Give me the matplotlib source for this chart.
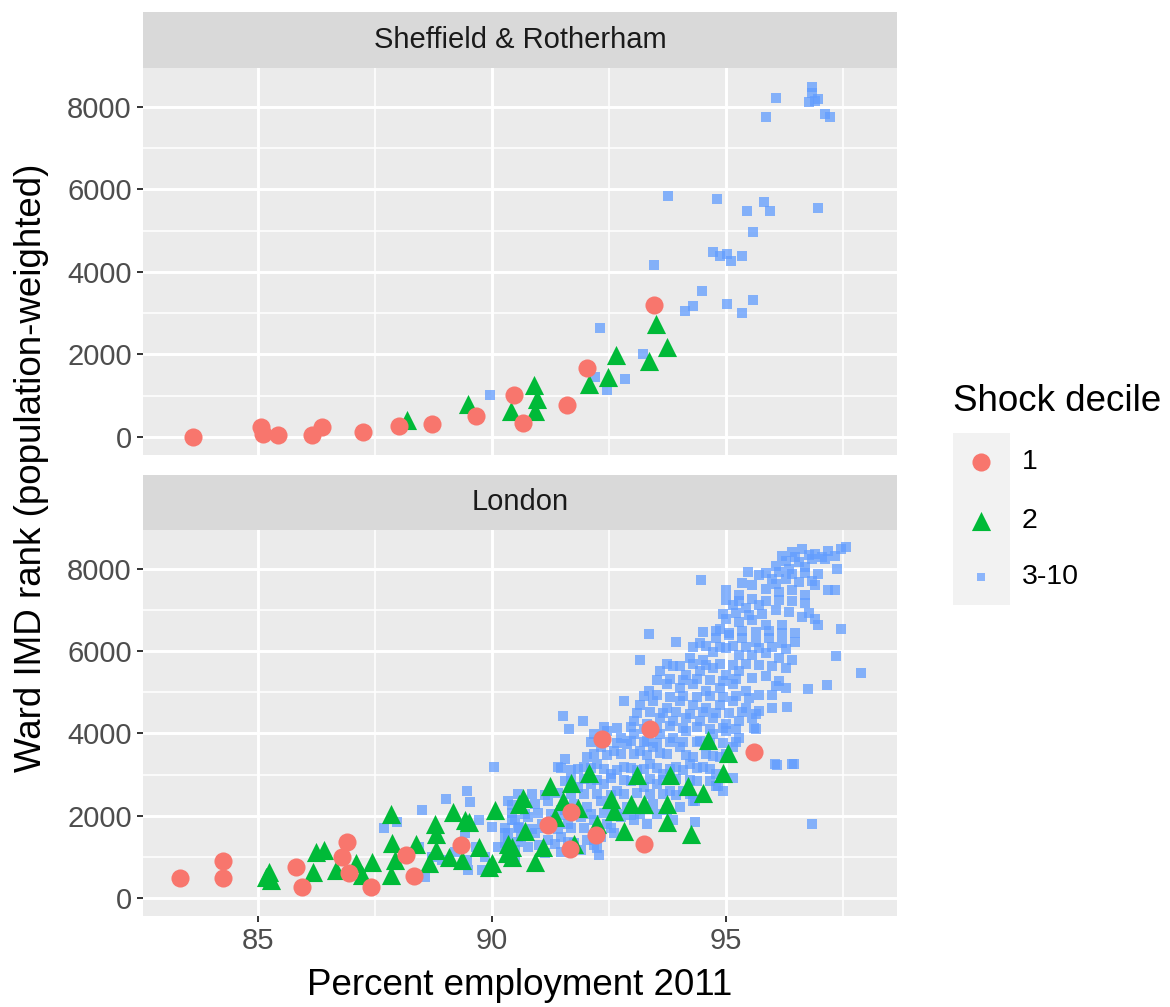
import matplotlib
matplotlib.use('Agg')
import matplotlib.pyplot as plt
import numpy as np

plt.rcParams['font.family'] = ['Liberation Sans', 'DejaVu Sans']

# Sheffield & Rotherham wards: (percent employment, IMD rank)
sheff_d1 = [(83.62, 10), (85.06, 240), (85.11, 80), (85.43, 60), (86.16, 40), (86.37, 240),
            (87.25, 120), (88.02, 270), (88.72, 320), (89.67, 520), (90.47, 1010), (90.67, 350),
            (91.61, 780), (92.02, 1670), (93.46, 3200)]
sheff_d2 = [(88.18, 400), (89.49, 800), (90.41, 620), (90.89, 1250), (90.96, 930), (90.91, 620),
            (92.08, 1290), (92.47, 1450), (92.66, 1990), (93.36, 1850), (93.51, 2740), (93.74, 2180)]
sheff_d3 = [(89.96, 1010), (92.2, 1450), (92.45, 1130), (92.85, 1410), (92.3, 2640), (93.23, 2020),
            (93.46, 4170), (94.12, 3060), (94.29, 3170), (94.48, 3530), (95.01, 3220), (95.34, 3010),
            (95.57, 3330), (93.76, 5840), (94.8, 5780), (95.44, 5480), (95.82, 5700), (95.93, 5480),
            (96.97, 5560), (95.57, 4980), (94.72, 4490), (94.88, 4390), (95.03, 4430), (95.1, 4270),
            (95.34, 4390), (95.86, 7760), (96.06, 8220), (96.76, 8120), (96.84, 8490), (96.89, 8140),
            (96.97, 8200), (97.11, 7820), (97.22, 7760), (96.84, 8340)]

# London wards
london_d1 = [(83.33, 480), (84.26, 900), (84.26, 480), (85.82, 760), (85.94, 280), (86.91, 1370),
             (86.81, 1000), (86.95, 600), (87.41, 260), (88.33, 540), (88.16, 1045), (89.35, 1290),
             (93.37, 4120), (92.36, 3860), (95.60, 3560), (93.25, 1310), (92.22, 1530), (91.20, 1770),
             (91.69, 2090), (91.66, 1180)]
london_d2 = [(85.18, 520), (85.28, 440), (85.25, 640), (86.24, 1130), (86.42, 1170), (86.17, 640),
             (86.67, 680), (87.09, 840), (87.45, 880), (87.84, 2050), (87.87, 1330), (87.84, 560),
             (87.94, 920), (88.79, 1810), (89.18, 2090), (89.08, 1000), (89.43, 1890), (90.07, 2130),
             (89.72, 1250), (89.93, 760), (90.57, 2290), (88.80, 1560), (88.66, 840), (89.51, 1840),
             (90.35, 1320), (88.38, 1320), (88.80, 1160), (89.37, 920), (90.00, 840), (87.22, 560),
             (90.67, 2440), (91.23, 2720), (91.69, 2800), (92.08, 3040), (91.51, 2360), (90.70, 1640),
             (91.09, 1240), (90.92, 880), (90.42, 1000), (91.76, 1320), (91.83, 2200), (92.61, 2120),
             (92.82, 1640), (93.24, 2280), (93.73, 1840), (93.80, 3000), (94.19, 2720), (94.26, 1560),
             (93.10, 3000), (92.25, 1800), (91.34, 1960), (94.61, 3840), (95.04, 3520), (94.93, 3040),
             (94.51, 2560), (93.73, 2290), (92.96, 2290), (92.54, 2410), (90.42, 1250), (90.32, 1090)]
london_d3 = [
    # upper right of the cloud
    (96.41, 8400), (96.62, 8480), (96.90, 8360), (97.18, 8440), (97.46, 8480), (97.57, 8520),
    (96.27, 8200), (96.55, 8160), (96.83, 8240), (97.11, 8240), (96.06, 8080), (96.34, 8000),
    (96.69, 8040), (95.46, 7920), (95.70, 7840), (95.99, 7760), (96.27, 7760), (96.55, 7680),
    (96.90, 7600), (97.18, 7480), (95.56, 7600), (95.85, 7520), (96.13, 7440), (96.41, 7480),
    (95.28, 7360), (96.69, 7360), (95.14, 7120), (95.42, 7040), (95.70, 7120), (96.06, 7000),
    (96.34, 6950), (96.62, 6830), (96.90, 6790), (96.97, 6630), (95.00, 6790), (95.28, 6710),
    (95.56, 6750), (95.85, 6630), (96.20, 6630), (94.86, 6550),
    (94.79, 6310), (95.07, 6390), (95.35, 6310), (95.63, 6230), (95.92, 6310), (96.20, 6190),
    (96.48, 6230), (94.44, 6190), (94.72, 5990), (95.00, 6070), (95.28, 5910), (95.56, 5910),
    (95.85, 5950), (96.13, 5830), (96.41, 5790), (94.23, 5830), (94.51, 5790),
    (96.20, 8320), (96.48, 8300), (96.76, 8330), (97.04, 8290), (97.32, 8310),
    (95.85, 7900), (96.13, 7930), (96.41, 7880), (96.69, 7910), (96.97, 7870),
    (95.35, 7650), (96.06, 7640), (96.83, 7700),
    (95.28, 7230), (95.56, 7260), (95.85, 7220), (96.13, 7250), (96.41, 7210), (96.69, 7180),
    (94.93, 6900), (95.21, 6920), (95.49, 6880), (95.77, 6900), (96.76, 6920),
    (94.51, 6470), (94.79, 6500), (95.07, 6450), (95.35, 6480), (95.63, 6460), (95.92, 6490),
    (96.20, 6430), (96.48, 6450),
    (94.30, 6100), (94.58, 6120), (94.86, 6090), (95.14, 6130), (95.42, 6100), (95.70, 6080),
    (95.99, 6110), (96.27, 6060),
    # middle of the cloud
    (93.59, 5510), (93.87, 5630), (94.15, 5430), (94.44, 5510), (94.72, 5590), (95.00, 5430),
    (95.28, 5510), (95.56, 5350), (95.85, 5390), (96.13, 5270), (96.27, 5110), (93.73, 5190),
    (94.01, 5110), (94.30, 5190), (94.58, 5030), (94.86, 5110), (95.14, 5190), (95.42, 5030),
    (95.70, 4940), (95.99, 4940), (93.17, 4700), (93.45, 4780), (93.73, 4620), (94.01, 4780),
    (94.30, 4700), (94.58, 4620), (94.86, 4700), (95.14, 4780), (95.42, 4620), (95.70, 4540),
    (95.99, 4620), (93.59, 4380), (93.87, 4300), (94.15, 4380), (94.44, 4300), (94.72, 4380),
    (95.00, 4220), (95.28, 4300), (95.56, 4380), (93.31, 4220), (93.03, 4300),
    (93.73, 5680), (94.01, 5650), (94.30, 5690), (94.58, 5660), (94.86, 5700), (95.14, 5670),
    (95.42, 5690), (95.70, 5660), (95.99, 5640), (96.27, 5600),
    (93.52, 5300), (93.80, 5330), (94.08, 5290), (94.37, 5320), (94.65, 5300), (94.93, 5280),
    (95.21, 5320), (96.06, 5150),
    (93.24, 4900), (93.52, 4930), (93.80, 4880), (94.08, 4910), (94.37, 4890), (94.65, 4920),
    (94.93, 4880), (95.21, 4900), (95.49, 4870),
    (93.10, 4500), (93.38, 4520), (93.66, 4490), (93.94, 4510), (94.23, 4480), (94.51, 4520),
    (94.79, 4500), (95.07, 4490), (95.35, 4510), (95.63, 4470),
    (92.18, 3980), (92.46, 4060), (92.75, 3900), (93.03, 3980), (93.31, 3820), (93.59, 3980),
    (93.87, 3900), (94.15, 4060), (94.44, 3820), (94.72, 3980), (95.00, 4060), (95.28, 3900),
    (92.32, 3660), (92.61, 3580), (92.89, 3740), (93.17, 3580), (93.45, 3660), (93.73, 3500),
    (94.01, 3660), (94.30, 3420), (94.58, 3500), (94.86, 3420), (95.14, 3660), (92.04, 3420),
    (92.39, 4160), (92.68, 4130), (92.96, 4150), (93.24, 4120), (93.52, 4140), (93.80, 4170),
    (94.08, 4130), (94.37, 4150), (94.65, 4120), (94.93, 4140), (95.21, 4100),
    (92.11, 3790), (92.39, 3800), (92.68, 3770), (92.96, 3810), (93.24, 3780), (93.52, 3760),
    (93.80, 3800), (94.08, 3780), (94.37, 3790), (94.65, 3770), (94.93, 3760), (95.21, 3800),
    (92.18, 3500), (92.46, 3480), (92.75, 3510), (93.03, 3490), (93.31, 3470), (93.59, 3520),
    (94.15, 3480), (94.72, 3460), (95.00, 3500),
    # lower band
    (91.41, 3180), (91.69, 3100), (91.97, 3180), (92.25, 3260), (92.54, 3020), (92.82, 3180),
    (93.10, 3100), (93.38, 3260), (93.66, 3020), (93.94, 3180), (94.23, 3260), (94.51, 3180),
    (94.79, 3020), (91.55, 2850), (91.83, 2690), (92.11, 2770), (92.39, 2770), (92.68, 2610),
    (92.96, 2850), (93.24, 2690), (93.52, 2770), (93.80, 2610), (94.08, 2610), (94.37, 2850),
    (94.65, 2850), (94.93, 2610),
    (91.48, 3150), (91.83, 3130), (92.11, 3160), (92.39, 3140), (92.68, 3120), (92.96, 3150),
    (93.24, 3130), (93.52, 3160), (93.80, 3140), (94.08, 3120), (94.37, 3150), (94.65, 3140),
    (91.69, 2880), (91.97, 2900), (92.25, 2870), (92.54, 2910), (92.82, 2880), (93.10, 2900),
    (93.38, 2890), (93.66, 2870), (93.94, 2900), (94.23, 2880),
    (90.35, 2370), (90.63, 2210), (90.92, 2290), (91.20, 2370), (91.48, 2130), (91.76, 2290),
    (92.04, 2210), (92.32, 2370), (92.61, 2130), (92.89, 2210), (93.17, 2050), (93.45, 2290),
    (93.73, 2130), (94.01, 2210), (94.30, 2370), (90.49, 1890), (90.77, 1970), (91.06, 1810),
    (91.34, 1890), (91.62, 1810), (91.90, 1970), (92.18, 1890), (92.46, 1810), (92.75, 1970),
    (93.03, 1890), (93.31, 1810), (93.87, 1890),
    (90.56, 2520), (90.85, 2540), (91.13, 2510), (91.41, 2550), (91.69, 2530), (91.97, 2520),
    (92.25, 2540), (92.54, 2510), (92.82, 2530), (93.10, 2550), (93.38, 2520), (93.66, 2540),
    (93.94, 2510), (94.23, 2530),
    (90.42, 2060), (90.70, 2040), (90.99, 2070), (91.27, 2050), (91.55, 2030), (91.83, 2060),
    (92.11, 2040), (92.39, 2070), (92.68, 2050), (92.96, 2030), (93.52, 2050),
    (90.35, 1570), (90.63, 1490), (90.92, 1570), (91.20, 1410), (91.48, 1490), (91.76, 1330),
    (92.04, 1410), (92.32, 1490), (92.61, 1570), (90.49, 1170), (90.77, 1250), (91.13, 1090),
    (91.48, 1130), (91.90, 1170), (92.25, 1210),
    (90.28, 1690), (90.56, 1710), (90.85, 1680), (91.13, 1700), (91.41, 1670), (91.69, 1690),
    (91.97, 1710), (92.25, 1680), (92.54, 1700),
    (90.28, 1330), (90.56, 1350), (91.00, 1300), (91.34, 1320), (91.62, 1350), (92.18, 1300),
    # left tail
    (88.23, 1130), (88.44, 1250), (88.72, 1000), (88.94, 920), (89.22, 1130), (89.47, 920),
    (89.65, 1250), (89.86, 1000), (90.14, 1250), (90.35, 1330), (90.50, 1000), (90.28, 1570),
    (90.00, 1730), (89.72, 1890), (89.43, 1570), (89.50, 680), (89.79, 680), (88.58, 500),
    (90.43, 1890), (90.57, 1730), (90.04, 3190), (89.47, 2610), (89.02, 2410), (89.54, 2330),
    (88.51, 2150), (87.70, 1690), (87.98, 1850), (90.43, 2250),
    # scattered wards
    (97.36, 8000), (97.32, 7480), (97.46, 6550), (97.34, 5890), (97.89, 5470), (97.15, 5170),
    (96.75, 5070), (96.83, 1790), (96.41, 3260), (96.04, 3260), (95.60, 4140), (94.47, 7720),
    (95.00, 7480), (95.00, 7240), (93.35, 6410), (93.94, 6230), (93.17, 5790), (93.35, 5040),
    (92.82, 4800), (91.51, 4420), (91.94, 4300), (91.65, 4100), (92.29, 1050), (91.55, 3380),
    (94.79, 2730), (95.63, 4120), (96.09, 3240), (96.46, 3260), (96.30, 4640), (94.82, 2720),
    (94.33, 2360), (94.33, 1840), (95.14, 2920),
]

panels = ['Sheffield & Rotherham', 'London']
groups = ['1', '2', '3-10']
colors = {'1': '#F8766D', '2': '#00BA38', '3-10': '#619CFF'}
x_ticks = [85, 90, 95]
y_ticks = [0, 2000, 4000, 6000, 8000]

fig = plt.figure(figsize=(11.7, 10.07), dpi=100)

panel_rects = [[0.1222, 0.5482, 0.6445, 0.3843], [0.1222, 0.0904, 0.6445, 0.3833]]
strip_rects = [[0.1222, 0.9325, 0.6445, 0.0556], [0.1222, 0.4737, 0.6445, 0.0546]]
panel_data = [(sheff_d1, sheff_d2, sheff_d3), (london_d1, london_d2, london_d3)]


def draw_panel(ax, d1, d2, d3, show_x):
    ax.set_facecolor('#EBEBEB')
    for s in ax.spines.values():
        s.set_visible(False)
    d1, d2, d3 = np.array(d1), np.array(d2), np.array(d3)
    ax.scatter(d3[:, 0], d3[:, 1], marker='s', s=48, color=colors['3-10'], alpha=0.75,
               linewidths=0, zorder=3)
    ax.scatter(d2[:, 0], d2[:, 1], marker='^', s=190, color=colors['2'], linewidths=0, zorder=4)
    ax.scatter(d1[:, 0], d1[:, 1], marker='o', s=170, color=colors['1'], linewidths=0, zorder=5)
    ax.set_xlim(82.55, 98.65)
    ax.set_ylim(-436, 8945)
    ax.set_xticks(x_ticks)
    ax.set_xticks([87.5, 92.5, 97.5], minor=True)
    ax.set_yticks(y_ticks)
    ax.set_yticks([1000, 3000, 5000, 7000], minor=True)
    ax.grid(which='major', color='white', linewidth=2.1)
    ax.grid(which='minor', color='white', linewidth=1.1)
    ax.set_axisbelow(True)
    ax.tick_params(which='major', length=4, width=1.4, color='#333333',
                   labelsize=21, labelcolor='#4D4D4D', pad=4)
    ax.tick_params(which='minor', length=0)
    if not show_x:
        ax.tick_params(axis='x', which='major', length=0, labelbottom=False)


for i in range(2):
    ax = fig.add_axes(panel_rects[i])
    draw_panel(ax, *panel_data[i], show_x=(i == 1))
    sax = fig.add_axes(strip_rects[i])
    sax.set_facecolor('#D9D9D9')
    sax.set_xticks([])
    sax.set_yticks([])
    for s in sax.spines.values():
        s.set_visible(False)
    sax.text(0.5, 0.5, panels[i], ha='center', va='center', fontsize=21,
             color='#1A1A1A', transform=sax.transAxes)

fig.text(0.4444, 0.0218, 'Percent employment 2011', ha='center', va='center', fontsize=26.5)
fig.text(0.027, 0.535, 'Ward IMD rank (population-weighted)', ha='center', va='center',
         rotation=90, fontsize=26.5)

# legend
fig.text(0.8145, 0.6008, 'Shock decile', ha='left', va='center', fontsize=26.5)
lax = fig.add_axes([0.8145, 0.3992, 0.0487, 0.1708])
lax.set_facecolor('#F2F2F2')
lax.set_xlim(0, 1)
lax.set_ylim(0, 1)
lax.set_xticks([])
lax.set_yticks([])
for s in lax.spines.values():
    s.set_visible(False)
key_y = [0.83, 0.49, 0.16]
key_style = [('o', 170, 1.0), ('^', 190, 1.0), ('s', 36, 0.7)]
for g, ky, (m, sz, a) in zip(groups, key_y, key_style):
    lax.scatter([0.5], [ky], marker=m, s=sz, color=colors[g], alpha=a, linewidths=0)
    fig.text(0.8735, 0.3992 + ky * 0.1708, g, ha='left', va='center', fontsize=20.5)

fig.savefig('out.png', dpi=100)
